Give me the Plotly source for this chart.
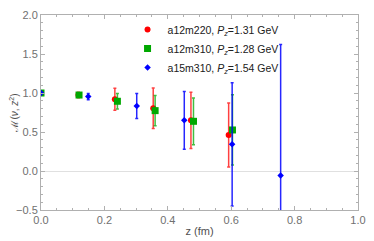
import plotly.graph_objects as go

# a12m220, Pz=1.31 GeV
z_red = [0.0, 0.118, 0.233, 0.354, 0.473, 0.592]
m_red = [1.0, 0.974, 0.92, 0.804, 0.65, 0.462]
e_red = [0.0, 0.035, 0.14, 0.26, 0.36, 0.41]

# a12m310, Pz=1.28 GeV
z_green = [0.0, 0.12, 0.241, 0.36, 0.481, 0.604]
m_green = [1.0, 0.974, 0.894, 0.774, 0.637, 0.526]
e_green = [0.0, 0.03, 0.10, 0.195, 0.30, 0.45]

# a15m310, Pz=1.54 GeV
z_blue = [0.0, 0.149, 0.302, 0.452, 0.603, 0.756]
m_blue = [1.0, 0.954, 0.833, 0.65, 0.342, -0.059]
e_blue = [0.0, 0.04, 0.16, 0.37, 0.79, 1.68]

names = ["a12m220, <i>P</i><sub><i>z</i></sub>=1.31 GeV",
         "a12m310, <i>P</i><sub><i>z</i></sub>=1.28 GeV",
         "a15m310, <i>P</i><sub><i>z</i></sub>=1.54 GeV"]

fig = go.Figure()
series = [
    (z_red, m_red, e_red, "#ff0000", "rgba(255,0,0,0.75)", "circle", 6),
    (z_green, m_green, e_green, "#00a800", "rgba(0,168,0,0.75)", "square", 7),
    (z_blue, m_blue, e_blue, "#0000ff", "rgba(0,0,255,0.85)", "diamond", 5),
]
for (zx, my, ey, col, ecol, sym, sz), nm in zip(series, names):
    fig.add_trace(go.Scatter(
        x=zx, y=my, mode="markers", name=nm,
        marker=dict(color=col, symbol=sym, size=sz),
        error_y=dict(type="data", array=ey, color=ecol, thickness=1.5, width=1.5),
    ))

FONT = "Liberation Sans, Arial, sans-serif"
axis_common = dict(
    showline=True, linecolor="#b0b0b0", linewidth=1, mirror="allticks",
    ticks="inside", ticklen=4, tickcolor="#b0b0b0",
    tickfont=dict(family=FONT, size=11, color="#707070"),
    showgrid=False, automargin=False,
)
fig.update_xaxes(
    range=[0, 1.0], dtick=0.2, tickformat=".1f", zeroline=False,
    minor=dict(dtick=0.05, ticks="inside", ticklen=2, tickcolor="#b0b0b0"),
    title=dict(text="z (fm)", font=dict(family=FONT, size=11, color="#505050"), standoff=2),
    **axis_common,
)
fig.update_yaxes(
    range=[-0.5, 2.0], dtick=0.5, tickformat=".1f",
    zeroline=True, zerolinecolor="#e0e0e0", zerolinewidth=1,
    minor=dict(dtick=0.1, ticks="inside", ticklen=2, tickcolor="#b0b0b0"),
    title=dict(text="ℳ(<i>ν</i>, <i>z</i><sup>2</sup>)", font=dict(family=FONT, size=10, color="#505050"), standoff=4),
    **axis_common,
)
# page body has an 8px default margin, so the figure is sized to fit the window
fig.update_layout(
    width=366, height=233,
    margin=dict(l=33, r=16, t=7, b=31),
    plot_bgcolor="white", paper_bgcolor="white",
    showlegend=True,
    legend=dict(x=0.273, y=1.0, xanchor="left", yanchor="top",
                bgcolor="rgba(0,0,0,0)",
                font=dict(family=FONT, size=10.5, color="#202020"),
                itemwidth=30, itemsizing="trace"),
)
fig.write_html("out.html")
